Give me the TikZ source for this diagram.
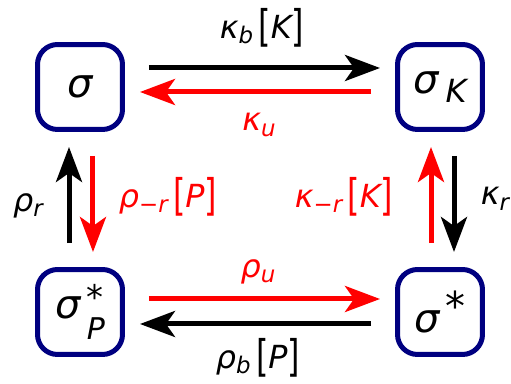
\documentclass[tikz,border=0pt]{standalone}
\usepackage{graphicx}
\usepackage{fontspec}
\setmainfont{DejaVu Sans}
\usetikzlibrary{positioning,calc,arrows.meta}
\definecolor{boxclr}{RGB}{0,0,128}
\definecolor{revclr}{RGB}{255,0,0}
% subscripts, stars, tall upright brackets
\newcommand{\lo}[1]{\raisebox{-0.17em}{\scalebox{0.72}{\itshape #1}}}
\newcommand{\blo}[1]{\raisebox{-0.24em}{\scalebox{0.8}{\itshape #1}}}
\newcommand{\hi}{\raisebox{0.28em}{\upshape *}}
\newcommand{\lsq}{\raisebox{-0.1em}{\scalebox{1}[1.37]{\upshape [}}}
\newcommand{\rsq}{\raisebox{-0.1em}{\scalebox{1}[1.37]{\upshape ]}}}

\begin{document}
\begin{tikzpicture}[x=0.02cm, y=-0.02cm,
  state/.style={draw=boxclr, line width=0.1cm, rounded corners=0.4cm,
                minimum size=1.7cm, inner sep=0pt,
                font=\fontsize{22.7}{27}\selectfont\itshape},
  rate/.style={line width=0.1cm,
               -{Stealth[length=0.7cm, width=0.52cm, inset=0.18cm]},
               shorten <=0.48cm, shorten >=0.3cm},
  lbl/.style={font=\fontsize{18.1}{22}\selectfont\itshape, inner sep=0pt}]
  \useasboundingbox (0,0) rectangle (511,384);
  % states
  \node[state] (s)  at (80,87)   {σ};
  \node[state] (sk) at (440,87)  {σ\,\blo{K}};
  \node[state] (sp) at (80,312)  {σ\,\makebox[0pt][l]{\raisebox{0.22em}{\upshape\scalebox{0.85}{*}}}\raisebox{-0.52em}{\scalebox{0.75}{P}}};
  \node[state] (ss) at (440,312) {σ\,\hi};
  % top pair
  \draw[rate] ([yshift=0.38cm]s.east) -- ([yshift=0.38cm]sk.west);
  \draw[rate, revclr] ([yshift=-0.1cm]sk.west) -- ([yshift=-0.1cm]s.east);
  \node[lbl] (kb) at (262,28) {κ\lo{b}\,\lsq K\rsq};
  \node[lbl, text=revclr] (ku) at (259,125) {κ\lo{u}};
  % left pair
  \draw[rate] ([xshift=-0.22cm]sp.north) -- ([xshift=-0.22cm]s.south);
  \draw[rate, revclr] ([xshift=0.26cm]s.south) -- ([xshift=0.26cm]sp.north);
  \node[lbl] (rr) at (28,206) {ρ\lo{r}};
  \node[lbl, text=revclr] (rmr) at (168,197) {ρ\lo{−r}\,\lsq P\rsq};
  % right pair
  \draw[rate, revclr] ([xshift=-0.18cm]ss.north) -- ([xshift=-0.18cm]sk.south);
  \draw[rate] ([xshift=0.28cm]sk.south) -- ([xshift=0.28cm]ss.north);
  \node[lbl, text=revclr] (kmr) at (344,197) {κ\lo{−r}\,\lsq K\rsq};
  \node[lbl] (kr) at (495,199) {κ\lo{r}};
  % bottom pair
  \draw[rate, revclr] ([yshift=0.26cm]sp.east) -- ([yshift=0.26cm]ss.west);
  \draw[rate] ([yshift=-0.24cm]ss.west) -- ([yshift=-0.24cm]sp.east);
  \node[lbl, text=revclr] (ru) at (258,272) {ρ\lo{u}};
  \node[lbl] (rb) at (258,358) {ρ\lo{b}\,\lsq P\rsq};
\end{tikzpicture}
\end{document}
